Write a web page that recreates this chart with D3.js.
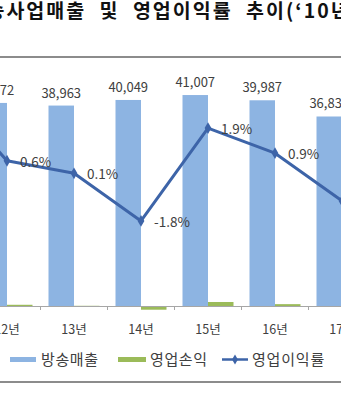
<!DOCTYPE html>
<html><head><meta charset="utf-8">
<script src="https://cdn.jsdelivr.net/npm/d3@7"></script>
<style>
html,body{margin:0;padding:0;background:#fff;overflow:hidden;}
text{font-family:"Noto Sans CJK KR","Noto Sans",sans-serif;}
</style></head>
<body>
<svg id="c" width="341" height="400"></svg>
<script>
// Data (10년, 11년 are outside the visible crop; estimated)
const categories = ["10년","11년","12년","13년","14년","15년","16년","17년"];
const sales      = [36500, 38200, 39472, 38963, 40049, 41007, 39987, 36837];
const marginPct  = [4.5, 3.6, 0.6, 0.1, -1.8, 1.9, 0.9, -1.0];
const profit     = categories.map((c,i)=>Math.round(sales[i]*marginPct[i]/100));
const legendLabels = ["방송매출","영업손익","영업이익률"];
const titleText = "방송사업매출 및 영업이익률 추이(‘10년~‘17년)";

const svg = d3.select("#c");
const blue = "#8db4e2", green = "#9bbb59", lineC = "#3d64a8", txt = "#404040";

const x = d3.scaleBand().domain(categories).range([-160.5, 375.5]).padding(0);
const y = d3.scaleLinear().domain([0, 45000]).range([306, 74.5]);
const y2 = d3.scaleLinear().domain([-2, 2]).range([226, 125.6]);
const bw = 25.5;
const cx = c => x(c) + x.bandwidth()/2;

// title
svg.append("text").attr("x", -33.5).attr("y", 18)
  .attr("font-size", 19.5).attr("font-weight", "bold").attr("fill", "#111")
  .attr("letter-spacing", 2).attr("word-spacing", 7).text(titleText);
// frame lines
svg.append("line").attr("x1",0).attr("x2",341).attr("y1",57).attr("y2",57).attr("stroke","#8c8c8c").attr("stroke-width",2);
svg.append("line").attr("x1",0).attr("x2",341).attr("y1",382).attr("y2",382).attr("stroke","#8c8c8c").attr("stroke-width",2);

// bars
svg.append("g").selectAll("rect").data(categories).join("rect")
  .attr("x", c => cx(c) - bw).attr("width", bw)
  .attr("y", (c,i) => y(sales[i])).attr("height", (c,i) => y(0) - y(sales[i]))
  .attr("fill", blue);
svg.append("g").selectAll("rect").data(categories).join("rect")
  .attr("x", c => cx(c)).attr("width", bw)
  .attr("y", (c,i) => Math.min(y(profit[i]), y(0)))
  .attr("height", (c,i) => Math.max(1, Math.abs(y(0) - y(profit[i]))))
  .attr("fill", green);

// x axis
const ax = svg.append("g").attr("transform", `translate(0,${y(0)})`)
  .call(d3.axisBottom(x).tickSize(0).tickPadding(0).tickFormat(""));
ax.select(".domain").attr("stroke", "#a6a6a6");
svg.append("g").selectAll("line").data(categories).join("line")
  .attr("x1", c => x(c)).attr("x2", c => x(c))
  .attr("y1", y(0)).attr("y2", y(0)+4).attr("stroke", "#a6a6a6");
svg.append("g").selectAll("text").data(categories).join("text")
  .attr("x", c => cx(c)).attr("y", 334).attr("text-anchor","middle")
  .attr("font-size", 12.5).attr("fill", txt).text(c => c);

// bar labels
const fmt = d3.format(",");
svg.append("g").selectAll("text").data(categories).join("text")
  .attr("x", c => cx(c) - bw/2).attr("y", (c,i) => y(sales[i]) - 8)
  .attr("text-anchor","middle").attr("font-size", 13).attr("fill", txt)
  .text((c,i) => fmt(sales[i]));

// line
const line = d3.line().x(d => cx(d.c)).y(d => y2(d.v));
const pts = categories.map((c,i)=>({c, v: marginPct[i]}));
svg.append("path").datum(pts).attr("d", line).attr("fill","none")
  .attr("stroke", lineC).attr("stroke-width", 3).attr("stroke-linejoin","round");
svg.append("g").selectAll("path").data(pts).join("path")
  .attr("d", d3.symbol(d3.symbolDiamond, 40))
  .attr("transform", d => `translate(${cx(d.c)},${y2(d.v)})`).attr("fill", lineC);
svg.append("g").selectAll("text").data(pts).join("text")
  .attr("x", d => cx(d.c) + 13).attr("y", d => y2(d.v) + 6)
  .attr("font-size", 13.5).attr("fill", txt)
  .text(d => (d.v < 0 ? "-" : "") + Math.abs(d.v).toFixed(1) + "%");

// legend
const lg = svg.append("g");
lg.append("rect").attr("x",10).attr("y",357).attr("width",26).attr("height",5).attr("fill",blue);
lg.append("text").attr("x",41).attr("y",364.5).attr("font-size",15).attr("letter-spacing",0.6).attr("fill",txt).text(legendLabels[0]);
lg.append("rect").attr("x",118).attr("y",357).attr("width",28).attr("height",5).attr("fill",green);
lg.append("text").attr("x",150).attr("y",364.5).attr("font-size",15).attr("letter-spacing",0.6).attr("fill",txt).text(legendLabels[1]);
lg.append("line").attr("x1",222).attr("x2",248).attr("y1",359.5).attr("y2",359.5).attr("stroke",lineC).attr("stroke-width",2.5);
lg.append("path").attr("d", d3.symbol(d3.symbolDiamond, 30)).attr("transform","translate(235,359.5)").attr("fill",lineC);
lg.append("text").attr("x",252).attr("y",364.5).attr("font-size",15).attr("letter-spacing",0.8).attr("fill",txt).text(legendLabels[2]);
</script>
</body></html>
